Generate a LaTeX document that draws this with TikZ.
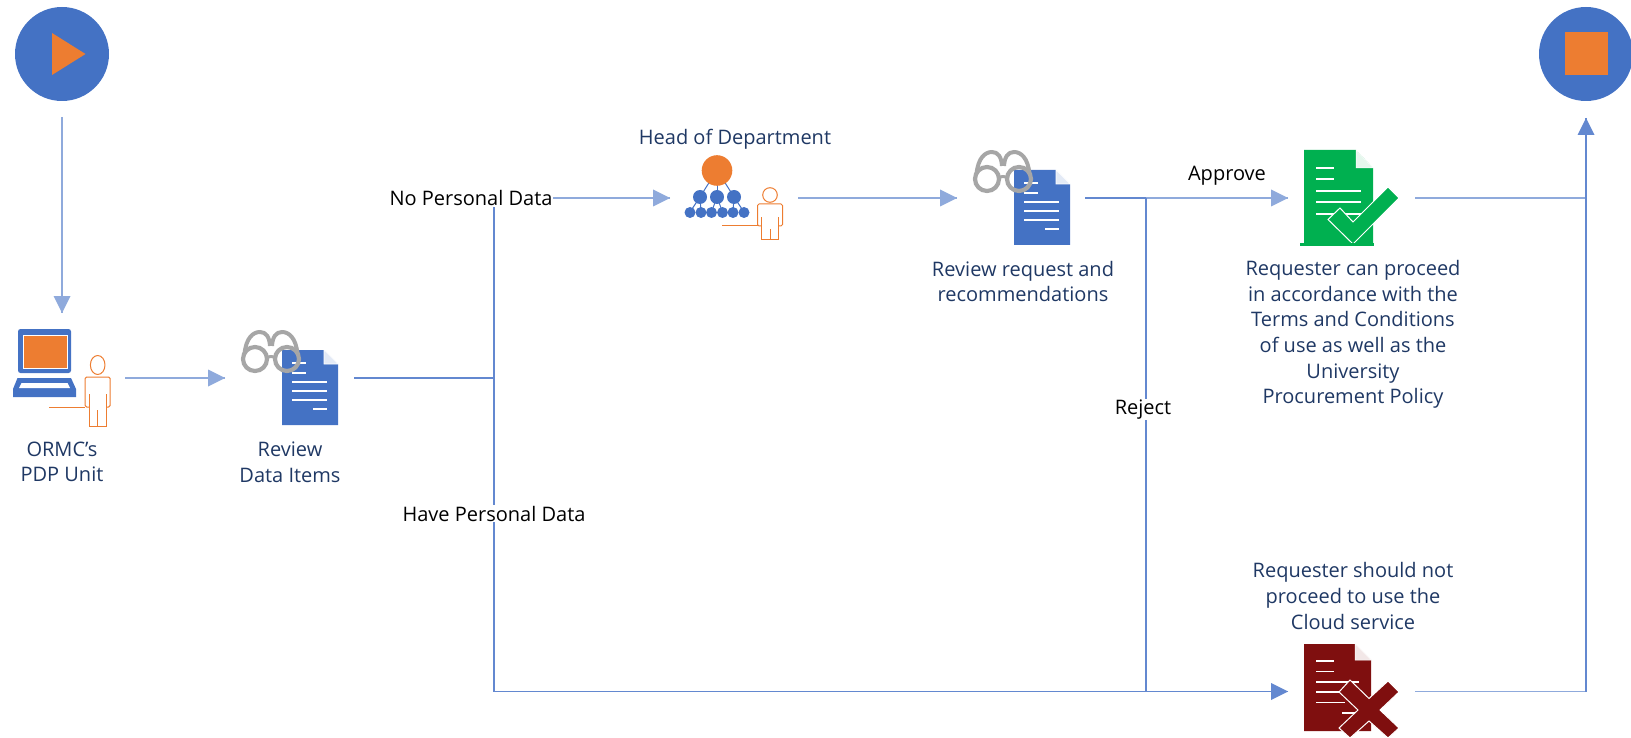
\documentclass[tikz,border=0pt]{standalone}
\usepackage{fontspec}
\setmainfont{Open Sans}
\definecolor{blue1}{HTML}{4472C4}
\definecolor{line1}{HTML}{8FAADC}
\definecolor{line2}{HTML}{6388D0}
\definecolor{orange1}{HTML}{ED7D31}
\definecolor{gray1}{HTML}{A6A6A6}
\definecolor{navy1}{HTML}{1F3864}
\definecolor{green1}{HTML}{00B050}
\definecolor{red1}{HTML}{7F0F0F}
\tikzset{
  lbl/.style={font=\fontsize{20}{25.6}\selectfont,text=navy1,align=center,inner sep=0pt},
  cond/.style={font=\fontsize{20}{25}\selectfont,text=black,fill=white,inner sep=1pt},
  hit/.style={inner sep=0pt,outer sep=0pt,minimum width=#1},
  hit/.default=10pt,
  conn/.style={draw=line1,line width=1.6pt},
  conn2/.style={draw=line2,line width=1.6pt},
  headlight/.style={fill=line1},
  headdark/.style={fill=line2},
  outl/.style={draw=orange1,line width=1pt,fill=none,line join=round,rounded corners=1.5pt},
  wl/.style={draw=white,line width=1.2pt},
}
\newcommand{\glassdoc}[2]{%
\begin{scope}[shift={(#1,#2)}]
  \fill[blue1] (0,0) -- (42,0) -- (56,14) -- (56,75) -- (0,75) -- cycle;
  \draw[draw=white,line width=.7pt,fill=white!85!blue1] (42,0) -- (42,14) -- (56,14) -- cycle;
  \foreach \ya/\xa/\xb in {13/10/24,23/10/24,32/10/45,41/10/45,50/10/45,59/31/45}
     \draw[wl] (\xa,\ya) -- (\xb,\ya);
  \draw[gray1,line width=4.2pt] (-27,9) circle[radius=12];
  \draw[gray1,line width=4.2pt] (5,9) circle[radius=12];
  \draw[gray1,line width=3pt] (-15,8) .. controls (-13,6) and (-9,6) .. (-7,8);
  \draw[gray1,line width=4pt] (-37.5,4) .. controls (-36,-12) and (-29,-18) .. (-22,-18) .. controls (-16,-18) and (-12.5,-13) .. (-12,-4);
  \draw[gray1,line width=4pt] (15.5,4) .. controls (14,-12) and (7,-18) .. (0,-18) .. controls (-6,-18) and (-9.5,-13) .. (-10,-4);
\end{scope}}
\newcommand{\persongly}[8]{% x, head y, head ry, shoulder y, inner arm y, arm bottom y, foot y, line start
  \draw[outl] (#1,#2) ellipse[x radius=7.3,y radius=#3];
  \draw[outl] (#1-8.5,#7) -- (#1-8.5,#5) (#1+8.5,#7) -- (#1+8.5,#5);
  \draw[outl] (#1-8.5,#6) -- (#1-12.5,#6) -- (#1-12.5,#4) -- (#1+12.5,#4) -- (#1+12.5,#6) -- (#1+8.5,#6);
  \draw[outl] (#1-8.5,#7) -- (#1+8.5,#7);
  \draw[outl] (#1,#6+3) -- (#1,#7);
  \draw[draw=orange1,line width=1pt] (#8,#6) -- (#1-12.5,#6);
}
\begin{document}
\begin{tikzpicture}[x=1pt,y=-1pt,>=latex]
\useasboundingbox (0,0) rectangle (1631,738);
% connector anchor boxes
\node[hit=126pt,minimum height=130pt] (pdp) at (62,378) {};
\node[hit=129pt,minimum height=40pt] (review) at (289.5,378) {};
\node[hit=128pt,minimum height=40pt] (hod) at (734,198) {};
\node[hit=128pt,minimum height=40pt] (req) at (1021,198) {};
\node[hit=127pt,minimum height=40pt] (ok) at (1351.5,198) {};
\node[hit=127pt,minimum height=40pt] (no) at (1351.5,691.5) {};
\node[hit=94pt,minimum height=126pt] (startb) at (62,54) {};
\node[hit=94pt,minimum height=128pt] (stopb) at (1586,54) {};
\coordinate (j1) at (494,378);
\coordinate (j2) at (494,198);
\coordinate (j3) at (494,691.5);
\coordinate (j4) at (1146,198);
\coordinate (j5) at (1146,691.5);
\coordinate (j6) at (1586,198);
\coordinate (j7) at (1586,691.5);
% connectors
\newcommand{\headR}[2]{\fill[#2] (#1) -- ++(-17,-8.5) -- ++(0,17) -- cycle;}
\path[conn] (startb.south) -- (pdp.north);
\fill[headlight] (pdp.north) -- ++(-8.5,-17) -- ++(17,0) -- cycle;
\path[conn] (pdp.east) -- (review.west); \headR{review.west}{headlight}
\path[conn2] (review.east) -- (j1);
\path[conn2] (j2) -- (j3);
\path[conn] (j2) -- (hod.west); \headR{hod.west}{headlight}
\path[conn] (hod.east) -- (req.west); \headR{req.west}{headlight}
\path[conn2] (req.east) -- (j4);
\path[conn] (j4) -- (ok.west); \headR{ok.west}{headlight}
\path[conn2] (j4) -- (j5);
\path[conn2] (j3) -- (no.west); \headR{no.west}{headdark}
\path[conn] (ok.east) -- (j6);
\path[conn] (no.east) -- (j7);
\path[conn2] (j7) -- (stopb.south);
\fill[headdark] (stopb.south) -- ++(-8.5,17) -- ++(17,0) -- cycle;
% condition labels
\node[cond] (l1) at (471,198) {No Personal Data};
\node[cond] (l2) at (494,513.5) {Have Personal Data};
\node[cond] (l3) at (1143,409.5) {Reject};
\node[cond,fill=none] (l4) at (1227,176) {Approve};
% start / stop
\node[circle,fill=blue1,minimum size=94pt,inner sep=0pt] (start) at (62,54) {};
\fill[orange1] (52,33) -- (85.5,54) -- (52,75) -- cycle;
\node[circle,fill=blue1,minimum size=94pt,inner sep=0pt] (stop) at (1586,54) {};
\fill[orange1] (1565,32) rectangle (1608,75);
% laptop
\fill[blue1,rounded corners=2.5pt] (18,329) rectangle (71,373);
\draw[fill=orange1,draw=white,line width=.7pt] (23,335) rectangle (67,368);
\fill[blue1] (17.5,378) -- (71,378) -- (76,389) -- (76,397) -- (13,397) -- (13,389) -- cycle;
\fill[white] (21.5,383) -- (67.5,383) -- (70,388) -- (19,388) -- cycle;
\persongly{97.7}{365}{9.5}{377}{394}{407}{426.5}{49}
% review
\glassdoc{282}{350}
% head of department
\foreach \a/\b in {717/700,717/717,717/734}
  \draw[blue1,line width=1pt] (\a,170) -- (\b,197);
\foreach \a/\b in {700/690,700/701,717/711.5,717/722.5,734/733,734/744}
  \draw[blue1,line width=1pt] (\a,197) -- (\b,212);
\fill[orange1] (717,170.5) circle[radius=15.3];
\foreach \a in {700,717,734} \fill[blue1] (\a,197) circle[radius=7];
\foreach \a in {690,701,711.5,722.5,733,744} \fill[blue1] (\a,212.5) circle[radius=5.5];
\persongly{770}{195}{7.3}{204}{217}{226}{240}{722}
% review request
\glassdoc{1014}{170}
% approve doc
\fill[green1] (1304,150) -- (1356,150) -- (1373,168) -- (1373,243) -- (1304,243) -- cycle;
\draw[draw=white,line width=.5pt,fill=white!90!green1] (1356,150) -- (1356,168) -- (1373,168) -- cycle;
\foreach \ya/\xa/\xb in {168/1316/1334,179/1316/1334,191/1316/1361,202/1316/1361,214/1316/1361}
  \draw[wl] (\xa,\ya) -- (\xb,\ya);
\draw[fill=green1,draw=white,line width=1pt] (1388,187) -- (1399,198) -- (1353,244) -- (1328,219.5) -- (1340,208) -- (1353,222) -- cycle;
\fill[green1] (1374,243) rectangle (1300,246);
% reject doc
\fill[red1] (1304,644) -- (1355,644) -- (1371,660) -- (1371,731) -- (1304,731) -- cycle;
\draw[draw=white,line width=.5pt,fill=white!90!red1] (1355,644) -- (1355,660) -- (1371,660) -- cycle;
\foreach \ya/\xa/\xb in {661/1316/1334,671.5/1316/1334,682/1316/1359,692/1316/1345,702.5/1316/1345,713/1342/1359}
  \draw[wl] (\xa,\ya) -- (\xb,\ya);
\draw[fill=red1,draw=white,line width=1pt] (1350,680) -- (1369,698.5) -- (1388,681) -- (1399,692) -- (1380,710) -- (1399,728) -- (1388,738) -- (1369,721) -- (1350,738) -- (1339,728) -- (1358,710) -- (1339,692) -- cycle;
% texts
\node[lbl] (t1) at (62,462) {ORMC’s\\PDP Unit};
\node[lbl] (t2) at (290,462) {Review\\Data Items};
\node[lbl] (t3) at (735,139) {Head of Department};
\node[lbl] (t4) at (1023,281.5) {Review request and\\recommendations};
\node[lbl] (t5) at (1353,334.5) {Requester can proceed\\in accordance with the\\Terms and Conditions\\of use as well as the\\University\\Procurement Policy};
\node[lbl] (t6) at (1353,596) {Requester should not\\proceed to use the\\Cloud service};
\end{tikzpicture}
\end{document}
